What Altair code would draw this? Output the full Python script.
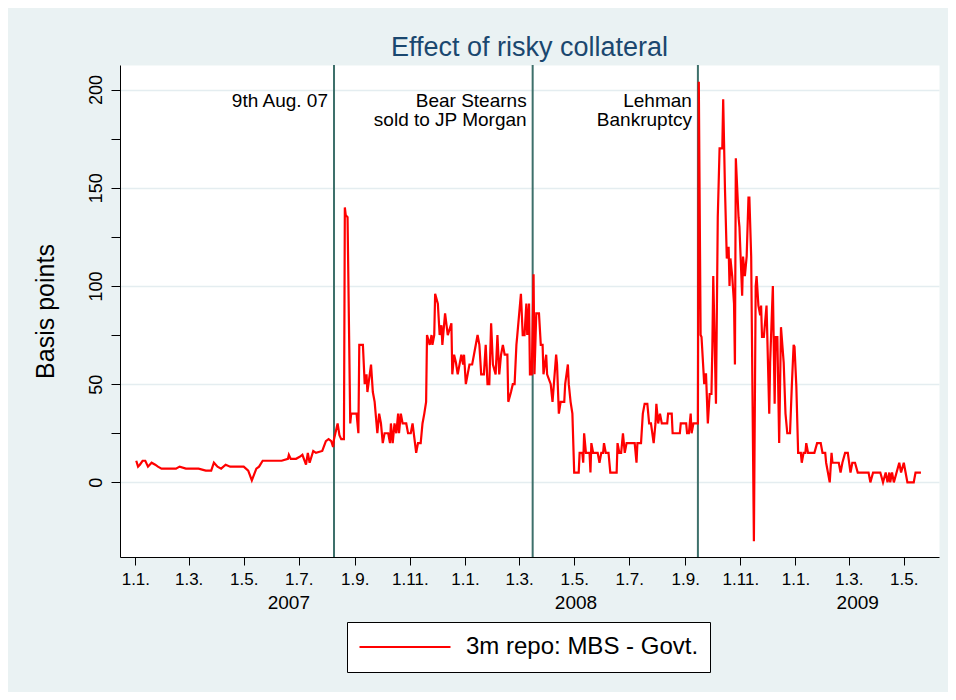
import altair as alt
import pandas as pd

# ---------------- data ----------------
series_name = "3m repo: MBS - Govt."
chart_title = "Effect of risky collateral"
y_title = "Basis points"

# Jan - 9 Aug 2007
dates_p1 = ["2007-01-02","2007-01-04","2007-01-06","2007-01-09","2007-01-12","2007-01-15","2007-01-19","2007-01-23","2007-01-26","2007-01-30",
            "2007-02-06","2007-02-15","2007-02-19","2007-02-26","2007-03-02","2007-03-12","2007-03-20","2007-03-26","2007-03-29","2007-04-02",
            "2007-04-06","2007-04-11","2007-04-16","2007-04-20","2007-04-25","2007-05-01","2007-05-06","2007-05-10","2007-05-15","2007-05-18",
            "2007-05-22","2007-05-28","2007-06-05","2007-06-12","2007-06-19","2007-06-20","2007-06-22","2007-06-28","2007-07-02","2007-07-05",
            "2007-07-09","2007-07-11","2007-07-13","2007-07-17","2007-07-20","2007-07-27","2007-07-31","2007-08-03","2007-08-06","2007-08-08",
            "2007-08-09"]
vals_p1 = [11,8,9,11,11,8,10,9,8,7,
           7,7,8,7,7,7,6,6,10,8,
           7,9,8,8,8,8,6,1,7,8,
           11,11,11,11,12,14,12,12,13,14,
           9,15,10,16,15,16,21,22,21,18,
           22]

# Aug - Dec 2007
dates_p2 = ["2007-08-13","2007-08-15","2007-08-17","2007-08-20","2007-08-21","2007-08-22","2007-08-24","2007-08-27","2007-08-28","2007-09-03",
            "2007-09-05","2007-09-06","2007-09-10","2007-09-12","2007-09-14","2007-09-15","2007-09-19","2007-09-21","2007-09-23","2007-09-26",
            "2007-09-28","2007-09-30","2007-10-02","2007-10-04","2007-10-08","2007-10-10","2007-10-11","2007-10-13","2007-10-15","2007-10-17",
            "2007-10-19","2007-10-20","2007-10-22","2007-10-24","2007-10-28","2007-10-30","2007-11-02","2007-11-04","2007-11-08","2007-11-10",
            "2007-11-13","2007-11-15","2007-11-17","2007-11-19","2007-11-20","2007-11-23","2007-11-25","2007-11-26","2007-11-28","2007-11-29",
            "2007-12-02","2007-12-04","2007-12-06","2007-12-07","2007-12-10","2007-12-13","2007-12-17","2007-12-18","2007-12-20","2007-12-22",
            "2007-12-24","2007-12-28","2007-12-30","2007-12-31"]
vals_p2 = [30,24,22,22,140,136,135,30,35,35,
           25,70,70,50,55,46,60,46,41,25,
           35,30,20,25,25,20,30,20,30,25,
           35,25,35,30,30,25,25,30,15,20,
           20,30,35,41,75,70,75,70,75,96,
           91,75,80,70,86,75,81,55,65,61,
           55,65,60,65]

# Jan - Apr 2008
dates_p3 = ["2008-01-02","2008-01-04","2008-01-06","2008-01-09","2008-01-11","2008-01-15","2008-01-17","2008-01-19","2008-01-22","2008-01-24",
            "2008-01-26","2008-01-28","2008-01-30","2008-02-01","2008-02-04","2008-02-06","2008-02-08","2008-02-10","2008-02-12","2008-02-14",
            "2008-02-17","2008-02-18","2008-02-21","2008-02-23","2008-02-25","2008-02-27","2008-02-28","2008-03-03","2008-03-05","2008-03-07",
            "2008-03-09","2008-03-10","2008-03-12","2008-03-13","2008-03-15","2008-03-17","2008-03-18","2008-03-20","2008-03-23","2008-03-25",
            "2008-03-27","2008-03-28","2008-03-31","2008-04-01","2008-04-05","2008-04-07","2008-04-11","2008-04-12","2008-04-14","2008-04-16",
            "2008-04-20","2008-04-21","2008-04-24","2008-04-25","2008-04-27","2008-04-29"]
vals_p3 = [50,55,60,60,65,75,70,55,55,70,
           50,50,81,60,55,75,55,65,70,65,
           65,41,46,50,50,70,75,96,75,75,
           91,75,91,55,55,106,55,86,86,70,
           70,55,65,55,50,41,65,60,35,41,
           41,50,60,50,41,35]

# May - 15 Sep 2008
dates_p4 = ["2008-05-01","2008-05-06","2008-05-07","2008-05-10","2008-05-11","2008-05-12","2008-05-14","2008-05-18","2008-05-19","2008-05-20",
            "2008-05-22","2008-05-27","2008-05-29","2008-05-31","2008-06-02","2008-06-03","2008-06-05","2008-06-08","2008-06-10","2008-06-17",
            "2008-06-18","2008-06-20","2008-06-22","2008-06-24","2008-06-26","2008-06-28","2008-07-07","2008-07-09","2008-07-10","2008-07-14",
            "2008-07-16","2008-07-18","2008-07-21","2008-07-23","2008-07-25","2008-07-28","2008-07-30","2008-07-31","2008-08-02","2008-08-04",
            "2008-08-06","2008-08-12","2008-08-13","2008-08-17","2008-08-18","2008-08-26","2008-08-27","2008-09-02","2008-09-03","2008-09-05",
            "2008-09-07","2008-09-08","2008-09-10","2008-09-12","2008-09-15"]
vals_p4 = [5,5,15,15,10,25,15,15,5,20,
           15,15,10,15,15,20,15,15,5,5,
           20,15,15,25,15,20,20,10,20,20,
           35,40,40,30,30,20,30,40,30,35,
           30,30,35,35,25,25,30,30,25,25,
           35,25,30,30,30]

# 16 Sep - Dec 2008
dates_p5 = ["2008-09-16","2008-09-18","2008-09-19","2008-09-22","2008-09-23","2008-09-24","2008-09-26","2008-09-28","2008-09-30","2008-10-01",
            "2008-10-02","2008-10-05","2008-10-07","2008-10-09","2008-10-12","2008-10-13","2008-10-15","2008-10-17","2008-10-19","2008-10-20",
            "2008-10-21","2008-10-23","2008-10-25","2008-10-26","2008-10-27","2008-10-30","2008-10-31","2008-11-03","2008-11-04","2008-11-06",
            "2008-11-08","2008-11-10","2008-11-11","2008-11-13","2008-11-16","2008-11-18","2008-11-19","2008-11-21","2008-11-23","2008-11-24",
            "2008-11-25","2008-11-27","2008-11-30","2008-12-03","2008-12-04","2008-12-07","2008-12-09","2008-12-10","2008-12-12","2008-12-14",
            "2008-12-16","2008-12-19","2008-12-21","2008-12-23","2008-12-26","2008-12-28","2008-12-30","2008-12-31"]
vals_p5 = [204,75,74,50,55,55,30,45,45,69,
           105,40,135,170,170,195,149,114,120,100,
           114,105,91,60,165,135,130,95,115,105,
           115,145,145,115,-30,100,105,90,85,90,
           74,74,90,35,61,100,40,74,74,20,
           79,61,35,25,25,49,70,69]

# 2009
dates_p6 = ["2009-01-02","2009-01-04","2009-01-07","2009-01-08","2009-01-10","2009-01-12","2009-01-13","2009-01-15","2009-01-22","2009-01-25",
            "2009-01-29","2009-01-31","2009-02-03","2009-02-04","2009-02-08","2009-02-10","2009-02-11","2009-02-18","2009-02-20","2009-02-22",
            "2009-02-25","2009-02-28","2009-03-03","2009-03-05","2009-03-08","2009-03-11","2009-03-23","2009-03-25","2009-03-28","2009-04-05",
            "2009-04-08","2009-04-11","2009-04-13","2009-04-15","2009-04-16","2009-04-18","2009-04-20","2009-04-23","2009-04-26","2009-04-28",
            "2009-05-01","2009-05-03","2009-05-05","2009-05-12","2009-05-14","2009-05-20"]
vals_p6 = [49,15,15,10,15,15,20,15,15,20,
           20,15,15,10,0,15,10,10,5,10,
           15,15,5,10,10,5,5,0,5,5,
           0,5,0,5,0,5,0,5,10,5,
           10,5,0,0,5,5]

event_dates = ["2007-08-09", "2008-03-16", "2008-09-15"]
event_labels = ["9th Aug. 07", "Bear Stearns\nsold to JP Morgan", "Lehman\nBankruptcy"]

year_labels = ["2007", "2008", "2009"]
year_label_dates = ["2007-06-20", "2008-05-03", "2009-03-11"]

x_tick_dates = ["2007-01-01","2007-03-01","2007-05-01","2007-07-01","2007-09-01","2007-11-01",
                "2008-01-01","2008-03-01","2008-05-01","2008-07-01","2008-09-01","2008-11-01",
                "2009-01-01","2009-03-01","2009-05-01"]
x_domain_dates = ["2006-12-15", "2009-06-09"]
y_ticks = [0, 25, 50, 75, 100, 125, 150, 175, 200]
y_domain = [-38, 212.5]

# ---------------- build ----------------
W, H = 819, 492
FONT = "Liberation Sans"

all_dates = dates_p1 + dates_p2 + dates_p3 + dates_p4 + dates_p5 + dates_p6
all_vals = vals_p1 + vals_p2 + vals_p3 + vals_p4 + vals_p5 + vals_p6
df = pd.DataFrame({"date": all_dates, "bp": all_vals})
df["series"] = series_name

ev = pd.DataFrame({"date": event_dates, "label": event_labels})
yr = pd.DataFrame({"date": year_label_dates, "label": year_labels})


def ms(s):
    return int(pd.Timestamp(s, tz="UTC").value // 10**6)


x_scale = alt.Scale(type="utc", domain=[ms(d) for d in x_domain_dates])
x_axis = alt.Axis(values=[ms(d) for d in x_tick_dates], format="%-d.%-m.",
                  labelFontSize=17, tickSize=8, labelPadding=6, grid=False,
                  title=None, labelColor="black", domainColor="black",
                  tickColor="black", labelFont=FONT)

y_axis = alt.Axis(values=y_ticks,
                  labelExpr="datum.value % 50 === 0 ? datum.label : ''",
                  gridOpacity={"condition": {"test": "datum.value % 50 !== 0", "value": 0}, "value": 1},
                  gridColor="#e4edf0", gridWidth=1.5,
                  labelAngle=270, labelAlign="center", labelBaseline="bottom",
                  labelFontSize=18, labelPadding=6, tickSize=9,
                  labelColor="black", domainColor="black", tickColor="black",
                  title=y_title, titleFontSize=25, titleFontWeight="normal",
                  titleColor="black", titlePadding=29, labelFont=FONT, titleFont=FONT)

line = alt.Chart(df).mark_line(strokeWidth=2.2, clip=True).encode(
    x=alt.X("date:T", scale=x_scale, axis=x_axis),
    y=alt.Y("bp:Q", scale=alt.Scale(domain=y_domain, nice=False, zero=False), axis=y_axis),
    color=alt.Color("series:N",
                    scale=alt.Scale(domain=[series_name], range=["#ff0000"]),
                    legend=alt.Legend(title=None, orient="none", legendX=227, legendY=557,
                                      symbolType="stroke", symbolSize=8281, symbolStrokeWidth=2.2,
                                      clipHeight=28,
                                      labelFontSize=24, labelFont=FONT, labelColor="black",
                                      labelLimit=400, labelOffset=14, padding=11,
                                      strokeColor="black", fillColor="white")),
)

rules = alt.Chart(ev).mark_rule(color="#3e706b", strokeWidth=2).encode(
    x=alt.X("date:T")
)

ev_text = alt.Chart(ev).mark_text(align="right", baseline="alphabetic", dx=-6,
                                  fontSize=19, lineHeight=19, lineBreak="\n",
                                  font=FONT, color="black").encode(
    x=alt.X("date:T"),
    y=alt.value(42),
    text="label:N",
)

yr_text = alt.Chart(yr).mark_text(align="center", baseline="middle", fontSize=19,
                                  font=FONT, color="black").encode(
    x=alt.X("date:T"),
    y=alt.value(H + 46),
    text="label:N",
)

chart = alt.layer(rules, line, ev_text, yr_text).properties(
    width=W, height=H,
    autosize=alt.AutoSizeParams(type="none"),
    padding={"left": 112, "top": 57, "right": 9, "bottom": 135},
    background="#eaf2f3",
    title=alt.TitleParams(chart_title, fontSize=27, font=FONT, color="#1a476f",
                          fontWeight="normal", anchor="middle", frame="group",
                          baseline="bottom", offset=4, dy=29),
).configure_view(fill="white", stroke="transparent")

chart.save("out.html", embed_options={"renderer": "svg", "actions": False})
